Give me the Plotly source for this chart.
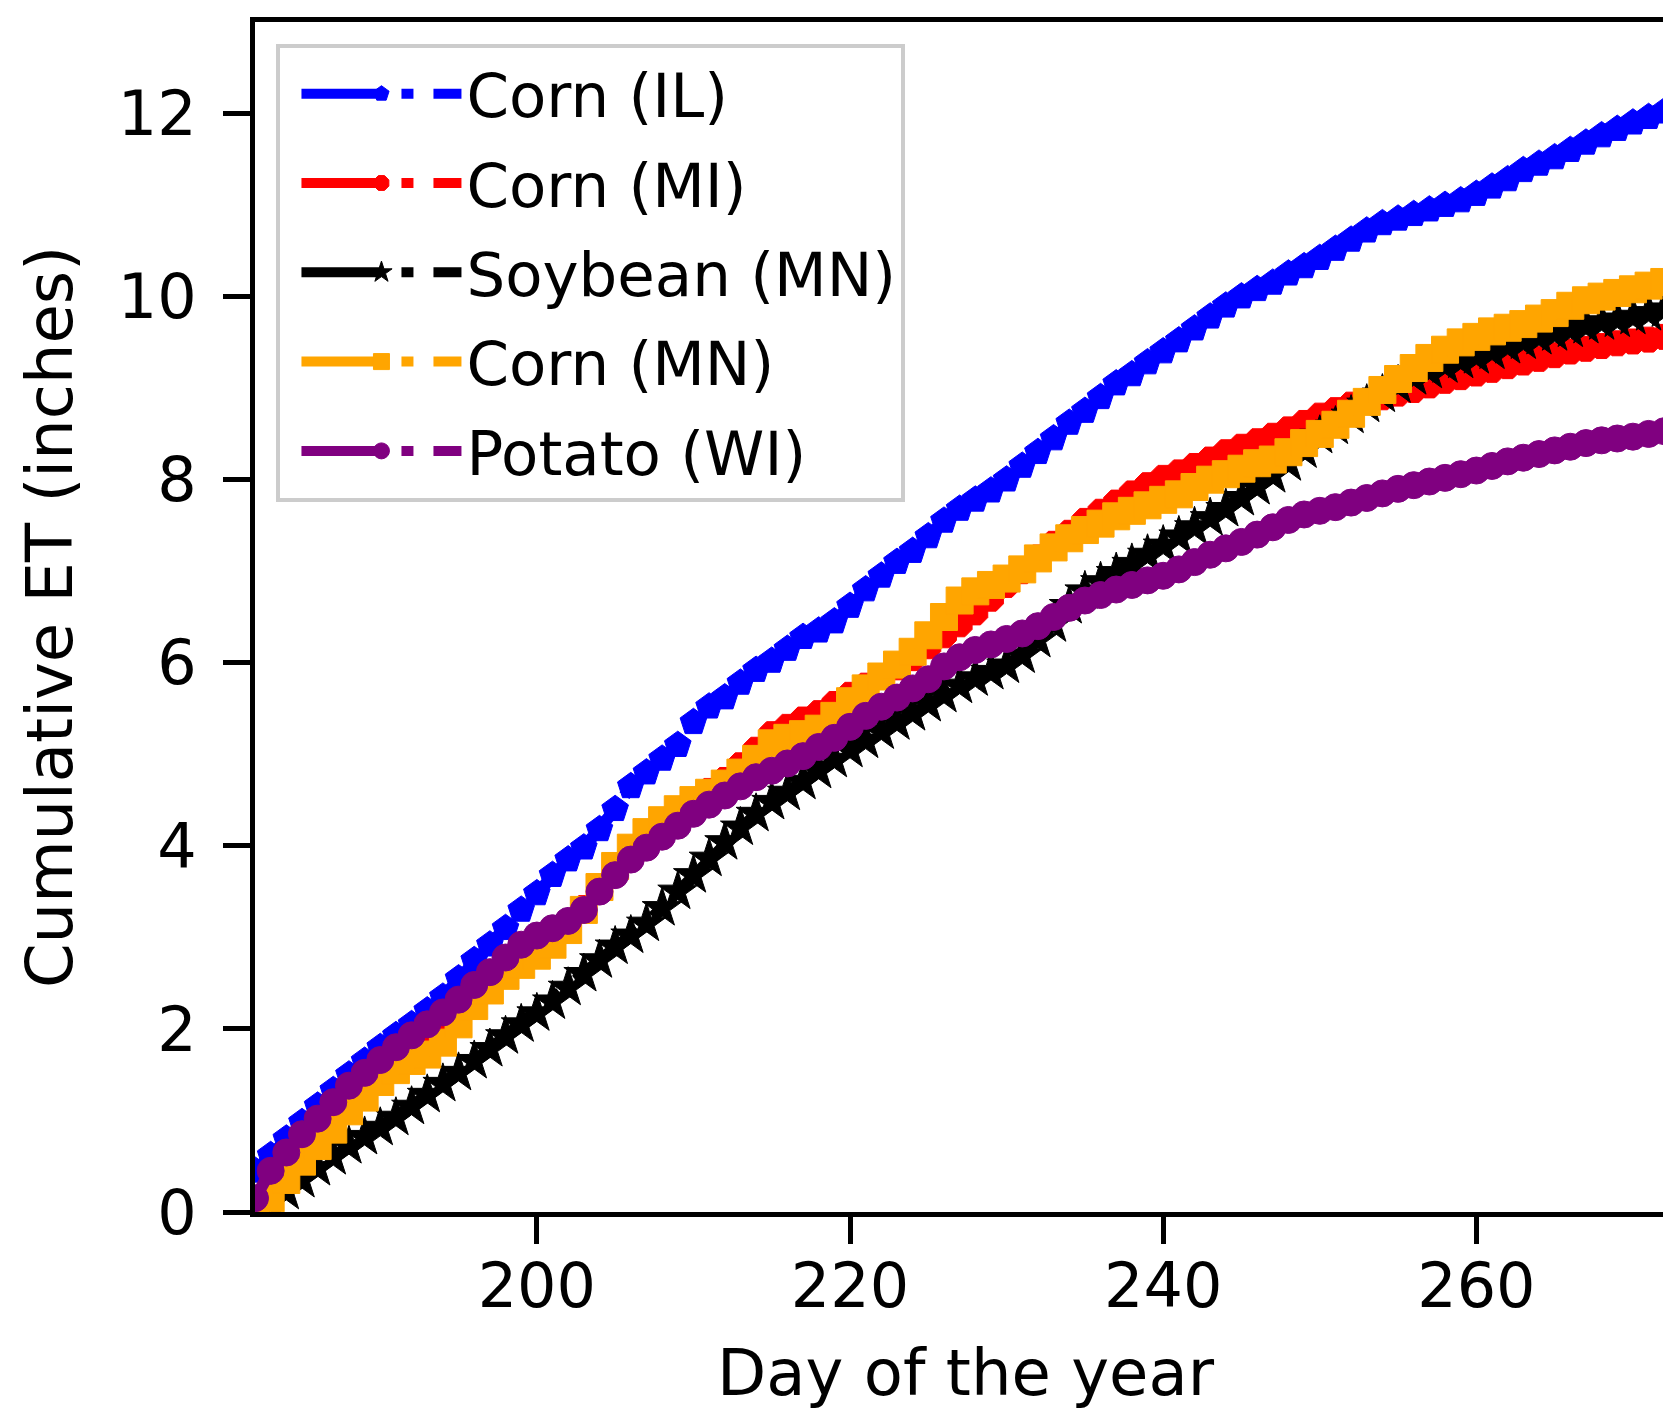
import plotly.graph_objects as go

days = list(range(182, 274))

corn_il = [0.45, 0.62, 0.80, 0.98, 1.16, 1.33, 1.50, 1.65, 1.80, 1.93,
           2.05, 2.20, 2.35, 2.55, 2.75, 2.92, 3.10, 3.30, 3.48, 3.68,
           3.85, 3.98, 4.18, 4.40, 4.65, 4.80, 4.95, 5.10, 5.35, 5.52,
           5.62, 5.78, 5.92, 6.02, 6.15, 6.28, 6.35, 6.45, 6.62, 6.80,
           6.95, 7.10, 7.22, 7.38, 7.55, 7.68, 7.78, 7.88, 8.00, 8.15,
           8.30, 8.45, 8.62, 8.75, 8.90, 9.05, 9.15, 9.28, 9.40, 9.52,
           9.65, 9.78, 9.90, 10.00, 10.08, 10.15, 10.25, 10.33, 10.42, 10.52,
           10.62, 10.72, 10.80, 10.85, 10.90, 10.95, 11.00, 11.05, 11.12, 11.20,
           11.28, 11.38, 11.45, 11.52, 11.60, 11.68, 11.76, 11.83, 11.90, 11.96,
           12.02, 12.08]

corn_mi = [0.00, 0.20, 0.42, 0.62, 0.82, 1.00, 1.18, 1.35, 1.50, 1.62,
           1.75, 1.88, 2.00, 2.15, 2.30, 2.48, 2.62, 2.72, 2.82, 2.95,
           3.12, 3.32, 3.55, 3.75, 3.92, 4.08, 4.22, 4.35, 4.48, 4.60,
           4.72, 4.88, 5.05, 5.22, 5.30, 5.38, 5.45, 5.55, 5.65, 5.75,
           5.85, 5.95, 6.05, 6.18, 6.30, 6.42, 6.55, 6.70, 6.85, 7.00,
           7.15, 7.30, 7.42, 7.55, 7.65, 7.75, 7.85, 7.94, 8.02, 8.08,
           8.15, 8.22, 8.30, 8.36, 8.42, 8.48, 8.55, 8.62, 8.70, 8.76,
           8.82, 8.86, 8.90, 8.94, 8.98, 9.03, 9.08, 9.12, 9.16, 9.20,
           9.24, 9.28, 9.32, 9.36, 9.40, 9.43, 9.46, 9.49, 9.51, 9.53,
           9.56, 9.58]

soybean_mn = [0.00, 0.10, 0.22, 0.35, 0.48, 0.60, 0.72, 0.82, 0.92, 1.03,
              1.15, 1.28, 1.40, 1.52, 1.65, 1.78, 1.92, 2.05, 2.17, 2.30,
              2.45, 2.60, 2.75, 2.90, 3.02, 3.15, 3.32, 3.50, 3.68, 3.86,
              4.04, 4.20, 4.35, 4.48, 4.58, 4.70, 4.82, 4.94, 5.05, 5.15,
              5.25, 5.35, 5.45, 5.55, 5.65, 5.75, 5.83, 5.90, 5.97, 6.08,
              6.25, 6.42, 6.62, 6.78, 6.88, 6.98, 7.08, 7.18, 7.28, 7.38,
              7.48, 7.58, 7.68, 7.80, 7.92, 8.05, 8.18, 8.32, 8.48, 8.58,
              8.70, 8.82, 8.93, 9.03, 9.12, 9.19, 9.25, 9.30, 9.35, 9.40,
              9.46, 9.51, 9.56, 9.60, 9.64, 9.68, 9.72, 9.75, 9.78, 9.82,
              9.86, 9.90]

corn_mn = [0.00, 0.15, 0.35, 0.55, 0.72, 0.90, 1.10, 1.25, 1.42, 1.55,
           1.65, 1.72, 1.85, 2.05, 2.25, 2.42, 2.58, 2.70, 2.80, 2.92,
           3.08, 3.30, 3.55, 3.78, 3.98, 4.15, 4.28, 4.40, 4.50, 4.58,
           4.68, 4.80, 4.95, 5.12, 5.18, 5.22, 5.28, 5.42, 5.58, 5.72,
           5.85, 5.98, 6.12, 6.30, 6.50, 6.68, 6.78, 6.85, 6.92, 7.02,
           7.14, 7.26, 7.36, 7.45, 7.52, 7.60, 7.66, 7.72, 7.78, 7.84,
           7.92, 8.00, 8.06, 8.12, 8.18, 8.22, 8.30, 8.40, 8.50, 8.60,
           8.72, 8.85, 8.98, 9.10, 9.22, 9.33, 9.42, 9.50, 9.56, 9.62,
           9.66, 9.70, 9.76, 9.82, 9.90, 9.96, 10.00, 10.04, 10.08, 10.12,
           10.16, 10.20]

potato_wi = [0.15, 0.45, 0.65, 0.85, 1.02, 1.20, 1.38, 1.52, 1.66, 1.80,
             1.93, 2.05, 2.18, 2.32, 2.48, 2.62, 2.78, 2.92, 3.02, 3.10,
             3.18, 3.30, 3.50, 3.68, 3.85, 3.98, 4.10, 4.22, 4.35, 4.45,
             4.55, 4.65, 4.75, 4.82, 4.90, 4.98, 5.08, 5.18, 5.30, 5.42,
             5.52, 5.62, 5.72, 5.82, 5.96, 6.06, 6.14, 6.20, 6.26, 6.32,
             6.40, 6.50, 6.60, 6.68, 6.74, 6.80, 6.85, 6.90, 6.95, 7.02,
             7.10, 7.18, 7.25, 7.32, 7.40, 7.48, 7.56, 7.62, 7.66, 7.70,
             7.75, 7.80, 7.85, 7.90, 7.94, 7.98, 8.02, 8.06, 8.10, 8.15,
             8.20, 8.24, 8.28, 8.32, 8.36, 8.40, 8.43, 8.45, 8.47, 8.50,
             8.53, 8.55]

series_names = ["Corn (IL)", "Corn (MI)", "Soybean (MN)", "Corn (MN)", "Potato (WI)"]
series_values = [corn_il, corn_mi, soybean_mn, corn_mn, potato_wi]
series_colors = ["blue", "red", "black", "orange", "purple"]
series_symbols = ["pentagon", "octagon", "star", "square", "circle"]
series_sizes = [28, 27, 30, 27, 27]

x_ticks = [200, 220, 240, 260]
y_ticks = [0, 2, 4, 6, 8, 10, 12]

FONT = "DejaVu Sans"

fig = go.Figure()
for i, (name, vals, col, sym, sz) in enumerate(zip(series_names, series_values,
                                                    series_colors, series_symbols, series_sizes)):
    fig.add_trace(go.Scatter(
        x=days, y=vals, name=name, mode="lines+markers",
        legendgroup=f"g{i}",
        line=dict(color=col, width=12, dash="80px,20px,12px,20px"),
        marker=dict(symbol=sym, size=sz, color=col, line=dict(width=1, color=col)),
        cliponaxis=True,
    ))

axis_common = dict(
    showgrid=False, zeroline=False,
    showline=True, linecolor="black", linewidth=5, mirror=True,
    ticks="outside", ticklen=27, tickwidth=5, tickcolor="black",
    tickfont=dict(family=FONT, size=62, color="black"),
)

fig.update_layout(
    width=1671, height=1413,
    margin=dict(l=247, r=3, t=14, b=209, autoexpand=False),
    paper_bgcolor="white", plot_bgcolor="white",
    font=dict(family=FONT, color="black"),
    xaxis=dict(range=[182, 272.75], tickvals=x_ticks, ticklabelstandoff=-11,
               title=dict(text="Day of the year", font=dict(family=FONT, size=64), standoff=30),
               **axis_common),
    yaxis=dict(range=[0, 13], tickvals=y_ticks, ticklabelstandoff=14,
               title=dict(text="Cumulative ET (inches)", font=dict(family=FONT, size=64), standoff=26),
               **axis_common),
    legend=dict(x=0.0151, y=0.9819, xanchor="left", yanchor="top",
                bgcolor="white", bordercolor="#cccccc", borderwidth=4,
                font=dict(family=FONT, size=61, color="black"),
                tracegroupgap=7, itemwidth=160, indentation=16, itemsizing="trace"),
    showlegend=True,
)

fig.write_html("out.html")
